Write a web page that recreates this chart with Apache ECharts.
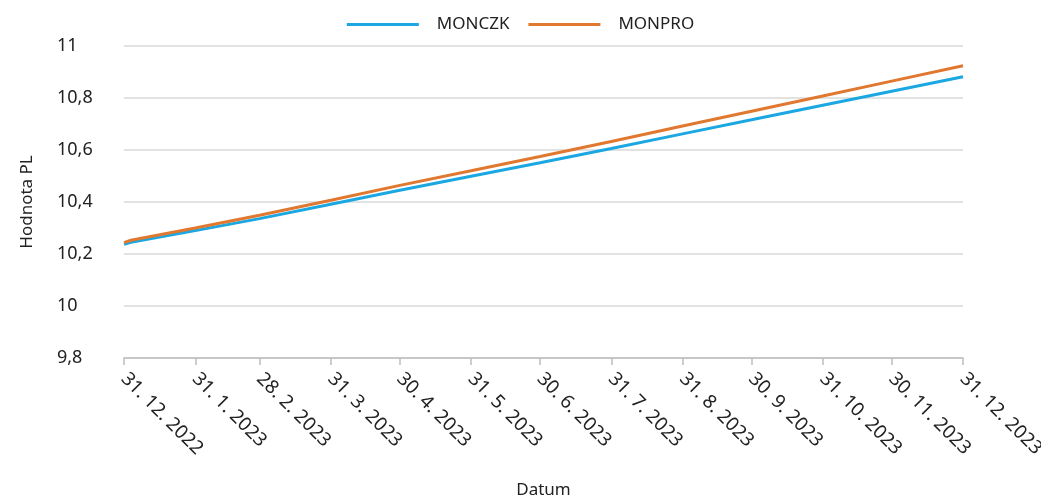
<!DOCTYPE html>
<html>
<head>
<meta charset="utf-8">
<script src="https://cdn.jsdelivr.net/npm/echarts@6/dist/echarts.min.js"></script>
<style>
    html, body { margin: 0; padding: 0; background: #fff; }
    #chart { width: 1041px; height: 499px; }
</style>
</head>
<body>
<div id="chart"></div>
<script>
    // data (month ends)
    var dates = ['2022-12-31', '2023-01-03', '2023-01-31', '2023-02-28', '2023-03-31', '2023-04-30', '2023-05-31',
        '2023-06-30', '2023-07-31', '2023-08-31', '2023-09-30', '2023-10-31', '2023-11-30', '2023-12-31'];
    var monczk = [10.237, 10.245, 10.290, 10.336, 10.391, 10.445, 10.499, 10.551, 10.606, 10.662, 10.716, 10.772, 10.826, 10.882];
    var monpro = [10.244, 10.253, 10.300, 10.349, 10.407, 10.464, 10.520, 10.575, 10.633, 10.692, 10.749, 10.808, 10.865, 10.924];
    var tickDates = ['2022-12-31', '2023-01-31', '2023-02-28', '2023-03-31', '2023-04-30', '2023-05-31', '2023-06-30',
        '2023-07-31', '2023-08-31', '2023-09-30', '2023-10-31', '2023-11-30', '2023-12-31'];

    // x axis works in days from the first date
    var DAY = 86400000;
    var base = Date.UTC(2022, 11, 31);
    function toDay(s) {
        var p = s.split('-');
        return Math.round((Date.UTC(+p[0], +p[1] - 1, +p[2]) - base) / DAY);
    }
    function pairs(vals) {
        return dates.map(function (d, i) { return [toDay(d), vals[i]]; });
    }
    var ticks = tickDates.map(toDay);

    var font = 'Noto Sans';
    var myChart = echarts.init(document.getElementById('chart'));

    var option = {
        animation: false,
        textStyle: { fontFamily: font },
        legend: {
            top: 11,
            left: 'center',
            icon: 'rect',
            itemWidth: 72,
            itemHeight: 3,
            itemGap: 19,
            textStyle: { fontSize: 17, color: '#222', padding: [0, 0, 0, 13], fontFamily: font },
            data: ['MONCZK', 'MONPRO']
        },
        grid: {
            left: 124,
            right: 78,
            top: 46,
            bottom: 141,
            containLabel: false,
            outerBoundsMode: 'none'
        },
        xAxis: {
            type: 'value',
            min: ticks[0],
            max: ticks[ticks.length - 1],
            name: 'Datum',
            nameLocation: 'middle',
            nameGap: 124,
            nameTextStyle: { fontSize: 17, color: '#222', fontFamily: font },
            axisLine: { show: true, onZero: false, lineStyle: { color: '#bfbfbf', width: 1.5 } },
            axisTick: { show: true, length: 7, customValues: ticks, lineStyle: { color: '#bfbfbf', width: 1.5 } },
            axisLabel: {
                customValues: ticks,
                rotate: -45,
                margin: 18,
                fontSize: 19,
                color: '#222',
                fontFamily: font,
                hideOverlap: false,
                formatter: function (v) {
                    var d = new Date(base + v * DAY);
                    return d.getUTCDate() + '. ' + (d.getUTCMonth() + 1) + '. ' + d.getUTCFullYear();
                }
            },
            splitLine: { show: false }
        },
        yAxis: {
            type: 'value',
            min: 9.8,
            max: 11,
            interval: 0.2,
            name: 'Hodnota PL',
            nameLocation: 'middle',
            nameGap: 88,
            nameTextStyle: { fontSize: 17, color: '#222', fontFamily: font },
            axisLine: { show: false },
            axisTick: { show: false },
            axisLabel: {
                align: 'left',
                margin: 67,
                fontSize: 18,
                color: '#222',
                fontFamily: font,
                formatter: function (v) {
                    return (Math.round(v * 10) / 10).toString().replace('.', ',');
                }
            },
            splitLine: { lineStyle: { color: '#d9d9d9', width: 1.5 } }
        },
        series: [
            {
                name: 'MONCZK',
                type: 'line',
                showSymbol: false,
                lineStyle: { color: '#1aa7e2', width: 3 },
                itemStyle: { color: '#1aa7e2' },
                data: pairs(monczk)
            },
            {
                name: 'MONPRO',
                type: 'line',
                showSymbol: false,
                lineStyle: { color: '#e0782f', width: 3 },
                itemStyle: { color: '#e0782f' },
                data: pairs(monpro)
            }
        ]
    };
    myChart.setOption(option);
</script>
</body>
</html>
